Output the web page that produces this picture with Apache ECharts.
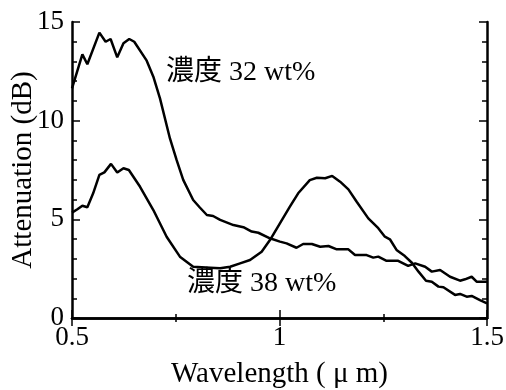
<!DOCTYPE html>
<html>
<head>
<meta charset="utf-8">
<script src="https://cdn.jsdelivr.net/npm/echarts@6/dist/echarts.min.js"></script>
<style>
  html, body { margin: 0; padding: 0; background: #fff; }
  #chart { width: 506px; height: 390px; }
</style>
</head>
<body>
<div id="chart"></div>
<script>
// 濃度 32 wt%
const wave32 = [0.500, 0.525, 0.537, 0.566, 0.581, 0.593, 0.609, 0.624, 0.638, 0.650,
  0.680, 0.696, 0.712, 0.736, 0.752, 0.768, 0.792, 0.808, 0.825, 0.840,
  0.857, 0.889, 0.913, 0.933, 0.949, 0.977, 1.001, 1.017, 1.041, 1.057,
  1.078, 1.098, 1.118, 1.138, 1.166, 1.182, 1.210, 1.226, 1.238, 1.258,
  1.286, 1.310, 1.327, 1.351, 1.367, 1.387, 1.411, 1.435, 1.447, 1.463,
  1.475, 1.500];
const atten32 = [11.64, 13.36, 12.86, 14.46, 14.00, 14.14, 13.21, 13.92, 14.14, 14.00,
  13.04, 12.23, 11.13, 9.10, 8.01, 7.00, 5.98, 5.60, 5.22, 5.17,
  4.97, 4.71, 4.60, 4.38, 4.32, 4.04, 3.87, 3.78, 3.56, 3.75,
  3.75, 3.61, 3.65, 3.48, 3.48, 3.19, 3.19, 3.06, 3.11, 2.90,
  2.90, 2.64, 2.77, 2.60, 2.35, 2.43, 2.09, 1.89, 1.96, 2.09,
  1.84, 1.84];

// 濃度 38 wt%
const wave38 = [0.500, 0.513, 0.525, 0.537, 0.551, 0.566, 0.578, 0.594, 0.609, 0.624,
  0.637, 0.664, 0.696, 0.728, 0.760, 0.792, 0.833, 0.857, 0.881, 0.905,
  0.929, 0.957, 0.977, 1.001, 1.025, 1.045, 1.073, 1.090, 1.110, 1.127,
  1.146, 1.166, 1.186, 1.214, 1.238, 1.254, 1.266, 1.282, 1.302, 1.319,
  1.335, 1.353, 1.367, 1.383, 1.395, 1.423, 1.435, 1.451, 1.463, 1.483,
  1.500];
const atten38 = [5.34, 5.51, 5.69, 5.61, 6.32, 7.25, 7.38, 7.81, 7.37, 7.59,
  7.50, 6.65, 5.47, 4.12, 3.11, 2.60, 2.55, 2.52, 2.60, 2.77,
  2.94, 3.36, 3.95, 4.80, 5.64, 6.32, 6.99, 7.11, 7.08, 7.20,
  6.91, 6.52, 5.89, 5.05, 4.55, 4.12, 3.99, 3.45, 3.14, 2.80,
  2.35, 1.89, 1.84, 1.59, 1.56, 1.17, 1.22, 1.08, 1.12, 0.91,
  0.74];

const xTickLabels = ['0.5', '1', '1.5'];
const yTickLabels = ['0', '5', '10', '15'];

const serif = '"Liberation Serif", "Noto Sans CJK JP", serif';
const lineColor = '#000';

const chart = echarts.init(document.getElementById('chart'));

const axisLine = { show: true, lineStyle: { color: lineColor, width: 2.5 } };
const tick = { inside: true, length: 8, lineStyle: { color: lineColor, width: 1.5 } };

const option = {
  animation: false,
  backgroundColor: '#fff',
  grid: { left: 72, right: 19, top: 22, bottom: 72, containLabel: false, outerBoundsMode: 'none' },
  xAxis: [
    {
      type: 'value',
      min: 0.5, max: 1.5, interval: 0.5,
      position: 'bottom',
      name: 'Wavelength ( μ m)',
      nameLocation: 'middle',
      nameGap: 42,
      nameMoveOverlap: false,
      nameTextStyle: { fontFamily: serif, fontSize: 29, color: '#000' },
      axisLine,
      axisTick: tick,
      minorTick: { show: true, splitNumber: 2, length: 4, lineStyle: { color: lineColor, width: 1.5 } },
      splitLine: { show: false },
      axisLabel: {
        margin: 6,
        fontFamily: serif, fontSize: 27, color: '#000',
        formatter: v => xTickLabels.find(t => Math.abs(parseFloat(t) - v) < 1e-6) || ''
      }
    },
    {
      type: 'value',
      min: 0.5, max: 1.5, interval: 0.5,
      position: 'top',
      axisLine,
      axisTick: tick,
      minorTick: { show: true, splitNumber: 2, length: 4, lineStyle: { color: lineColor, width: 1.5 } },
      splitLine: { show: false },
      axisLabel: { show: false }
    }
  ],
  yAxis: [
    {
      type: 'value',
      min: 0, max: 15, interval: 5,
      position: 'left',
      name: 'Attenuation (dB)',
      nameLocation: 'middle',
      nameGap: 34,
      nameMoveOverlap: false,
      nameRotate: 90,
      nameTextStyle: { fontFamily: serif, fontSize: 29, color: '#000' },
      axisLine,
      axisTick: tick,
      minorTick: { show: true, splitNumber: 5, length: 5, lineStyle: { color: lineColor, width: 1.5 } },
      splitLine: { show: false },
      axisLabel: {
        margin: 8,
        fontFamily: serif, fontSize: 27, color: '#000',
        formatter: v => yTickLabels.find(t => Math.abs(parseFloat(t) - v) < 1e-6) || ''
      }
    },
    {
      type: 'value',
      min: 0, max: 15, interval: 5,
      position: 'right',
      axisLine,
      axisTick: tick,
      minorTick: { show: true, splitNumber: 5, length: 5, lineStyle: { color: lineColor, width: 1.5 } },
      splitLine: { show: false },
      axisLabel: { show: false }
    }
  ],
  series: [
    {
      name: '濃度 32 wt%',
      type: 'line',
      data: wave32.map((x, i) => [x, atten32[i]]),
      showSymbol: false,
      lineStyle: { color: lineColor, width: 2.5 }
    },
    {
      name: '濃度 38 wt%',
      type: 'line',
      data: wave38.map((x, i) => [x, atten38[i]]),
      showSymbol: false,
      lineStyle: { color: lineColor, width: 2.5 }
    }
  ],
  graphic: [
    {
      type: 'text', left: 166, top: 59,
      style: { text: '濃度 32 wt%', fontFamily: serif, fontSize: 28, fill: '#000' }
    },
    {
      type: 'text', left: 187, top: 270,
      style: { text: '濃度 38 wt%', fontFamily: serif, fontSize: 28, fill: '#000' }
    }
  ]
};

chart.setOption(option);
</script>
</body>
</html>
